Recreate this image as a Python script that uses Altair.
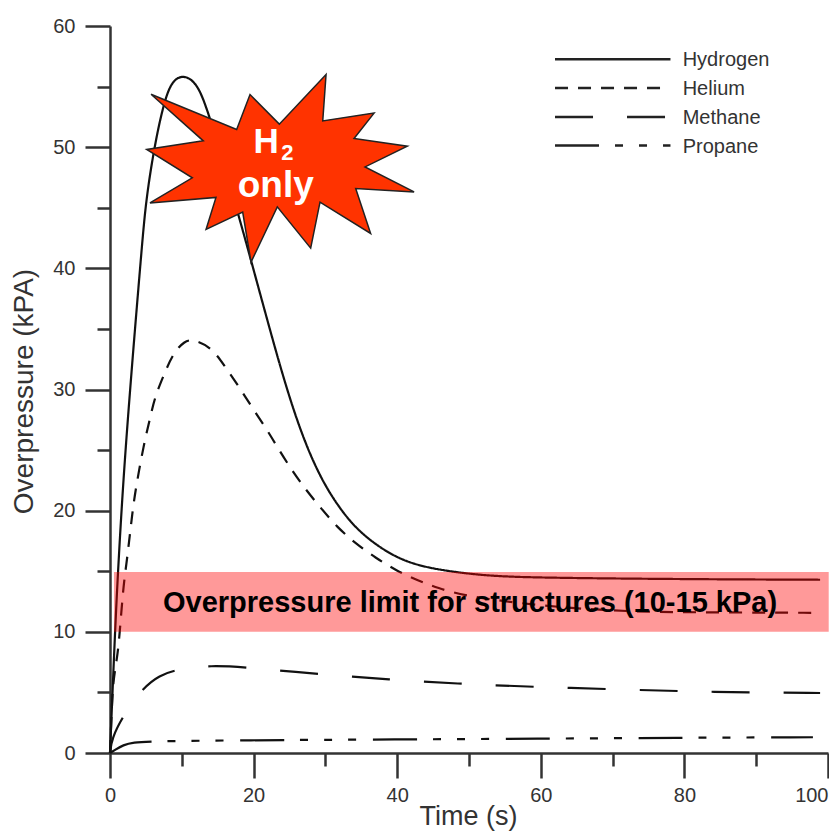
import altair as alt
import pandas as pd

H2_T = [0, 0.69, 1.1, 2.08, 4.39, 4.99, 6.09, 7.34, 8.5, 10.1, 12.0, 13.6, 18.0, 19.67, 22.4, 24.65, 27.0, 29.5, 31.86, 34.2, 37.4, 41.1, 45.7, 52.6, 59.6, 70, 85, 98.9, 98.9]
H2_P = [0, 9.9, 14.9, 25.0, 41.5, 45.5, 49.75, 53.3, 55.4, 56.0, 55.4, 53.2, 44.2, 40.6, 34.65, 29.95, 25.8, 22.5, 20.3, 18.56, 17.0, 15.76, 15.1, 14.6, 14.48, 14.4, 14.33, 14.3, 14.3]
HE_T = [0, 0.24, 0.42, 0.93, 1.25, 1.84, 2.31, 2.63, 3.0, 3.46, 4.75, 5.54, 6.2, 7.4, 8.77, 10.4, 11.5, 14.1, 15.9, 18.0, 19.8, 21.9, 23.3, 25.3, 27.3, 29.4, 31.6, 34.2, 37.0, 39.75, 42.7, 45.7, 49.2, 56.4, 63.3, 72.4, 85, 98.9, 98.9]
HE_P = [0, 3.55, 5.8, 7.67, 9.08, 13.7, 15.68, 17.33, 19.2, 21.45, 25.6, 27.5, 29.3, 31.05, 33.0, 34.0, 34.15, 33.5, 32.0, 30.2, 28.5, 26.65, 25.25, 23.35, 21.7, 20.2, 18.65, 17.3, 16.1, 15.1, 14.27, 13.6, 13.0, 12.4, 12.0, 11.65, 11.6, 11.57, 11.57]
CH4_T = [0, 0.24, 1.84, 4.6, 6.9, 9.2, 14.1, 19.1, 24.0, 40.0, 49.2, 59.1, 69.3, 79.2, 89.0, 98.9, 98.9]
CH4_P = [0, 1.2, 3.1, 5.4, 6.4, 6.9, 7.25, 7.05, 6.77, 6.0, 5.7, 5.45, 5.28, 5.1, 5.0, 4.95, 4.95]
C3_T = [0, 0.69, 1.84, 3.2, 5.8, 18.0, 40.0, 59.6, 79.0, 97.9, 97.9]
C3_P = [0, 0.25, 0.66, 0.88, 0.97, 1.05, 1.12, 1.18, 1.26, 1.3, 1.3]

SERIES = ["Hydrogen", "Helium", "Methane", "Propane"]
DASHES = [[1, 0], [13, 10], [38, 34], [44, 16, 8, 16, 8, 16, 8, 16.7]]
LEGEND_Y = [57.26, 54.88, 52.5, 50.13]
LEGEND_X0 = 61.98
LEGEND_X1 = [78.06, 77.44, 77.44, 78.06]
LEGEND_TX = 79.76

BURST_T = [5.71, 17.64, 19.50, 23.58, 30.09, 29.63, 36.78, 33.99, 41.41, 35.52, 42.35, 34.22, 36.30, 29.25, 27.95, 23.30, 19.64, 18.48, 13.38, 14.76, 5.57, 11.46, 5.11, 12.99, 5.71]
BURST_P = [54.37, 51.46, 54.34, 51.90, 56.0, 52.17, 52.81, 50.72, 50.08, 48.37, 46.31, 46.59, 42.88, 45.46, 41.67, 45.07, 40.51, 44.64, 43.21, 45.85, 45.40, 47.47, 49.81, 50.52, 54.37]

X_MAJOR = [0, 20, 40, 60, 80, 100]
X_MINOR = [10, 30, 50, 70, 90]
Y_MAJOR = [0, 10, 20, 30, 40, 50, 60]
Y_MINOR = [5, 15, 25, 35, 45, 55]

INK = "#333333"
FONT = "Liberation Sans"

rows = []
for name, ts, ps in zip(SERIES, [H2_T, HE_T, CH4_T, C3_T], [H2_P, HE_P, CH4_P, C3_P]):
    rows += [{"series": name, "t": t, "p": p} for t, p in zip(ts, ps)]
curves = pd.DataFrame(rows)

leg_rows = []
for name, y, x1 in zip(SERIES, LEGEND_Y, LEGEND_X1):
    leg_rows += [{"series": name, "t": LEGEND_X0, "p": y}, {"series": name, "t": x1, "p": y}]
legend_lines = pd.DataFrame(leg_rows)
legend_text = pd.DataFrame({"series": SERIES, "t": [LEGEND_TX] * 4, "p": LEGEND_Y})

burst = pd.DataFrame({"i": range(len(BURST_T)), "t": BURST_T, "p": BURST_P})

x_scale = alt.Scale(domain=[0, 100], nice=False, zero=False)
y_scale = alt.Scale(domain=[0, 60], nice=False, zero=False)
dash_scale = alt.Scale(domain=SERIES, range=DASHES)

common_axis = dict(
    grid=False, domainColor=INK, domainWidth=2.5, tickColor=INK, tickWidth=2.5,
    labelColor=INK, labelFont=FONT, labelFontSize=20, labelOverlap=False,
    labelBound=False, labelFlush=False, titleColor=INK, titleFont=FONT,
    titleFontWeight="normal", titleBaseline="alphabetic",
)
x_major = alt.Axis(orient="bottom", values=X_MAJOR, tickSize=25, labelPadding=7,
                   labelAlign=alt.condition("datum.value == 100", alt.value("right"), alt.value("center")),
                   title="Time (s)", titleFontSize=27, titleX=358, titleY=71, titleAlign="center", format="d", **common_axis)
y_major = alt.Axis(orient="left", values=Y_MAJOR, tickSize=25, labelPadding=10,
                   title="Overpressure (kPA)", titleFontSize=28, titleX=-78, titleY=365, titleAlign="center", titleAngle=-90, format="d", **common_axis)
x_minor = alt.Axis(orient="bottom", values=X_MINOR, tickSize=13, labels=False, domain=False, title=None,
                   grid=False, tickColor=INK, tickWidth=2.5)
y_minor = alt.Axis(orient="left", values=Y_MINOR, tickSize=13, labels=False, domain=False, title=None,
                   grid=False, tickColor=INK, tickWidth=2.5)

X = lambda axis=None: alt.X("t:Q", scale=x_scale, axis=axis)
Y = lambda axis=None: alt.Y("p:Q", scale=y_scale, axis=axis)

curve_layer = alt.Chart(curves).mark_line(color="#111111", strokeWidth=2.2, interpolate="basis").encode(
    x=X(x_major), y=Y(y_major),
    strokeDash=alt.StrokeDash("series:N", scale=dash_scale, legend=None),
    detail="series:N",
)

burst_layer = alt.Chart(burst).mark_line(fill="#FF3300", stroke="#222222", strokeWidth=1.5, strokeJoin="miter").encode(
    x=X(x_minor), y=Y(y_minor), order="i:Q",
)

def label(text, t, p, size, color="white", weight="bold", align="center"):
    df = pd.DataFrame({"t": [t], "p": [p], "s": [text]})
    return alt.Chart(df).mark_text(font=FONT, fontSize=size, fontWeight=weight, color=color,
                                   align=align, baseline="alphabetic").encode(x=X(), y=Y(), text="s:N")

band = alt.Chart(pd.DataFrame({"t": [0.55], "t2": [100.1], "p": [10], "p2": [14.93]})).mark_rect(
    color="#FF0000", opacity=0.4).encode(x=X(), x2="t2:Q", y=Y(), y2="p2:Q")

legend_line_layer = alt.Chart(legend_lines).mark_line(color="#222222", strokeWidth=2.5).encode(
    x=X(), y=Y(),
    strokeDash=alt.StrokeDash("series:N", scale=dash_scale, legend=None),
    detail="series:N",
)
legend_text_layer = alt.Chart(legend_text).mark_text(
    font=FONT, fontSize=20, color=INK, align="left", baseline="middle", dy=1).encode(x=X(), y=Y(), text="series:N")

chart = alt.layer(
    curve_layer,
    burst_layer,
    band,
    label("Overpressure limit for structures (10-15 kPa)", 7.38, 11.63, 29, color="black", align="left"),
    label("H", 21.73, 49.5, 35),
    label("2", 24.7, 48.9, 22),
    label("only", 23.08, 45.9, 37),
    legend_line_layer,
    legend_text_layer,
).resolve_axis(x="independent", y="independent").resolve_scale(strokeDash="shared").properties(
    width=718, height=727,
    autosize=alt.AutoSizeParams(type="none"),
    padding={"left": 102, "top": 18, "right": 1, "bottom": 78},
).configure_view(stroke=None)

chart.save("out.html", embed_options={"renderer": "svg", "actions": False})
